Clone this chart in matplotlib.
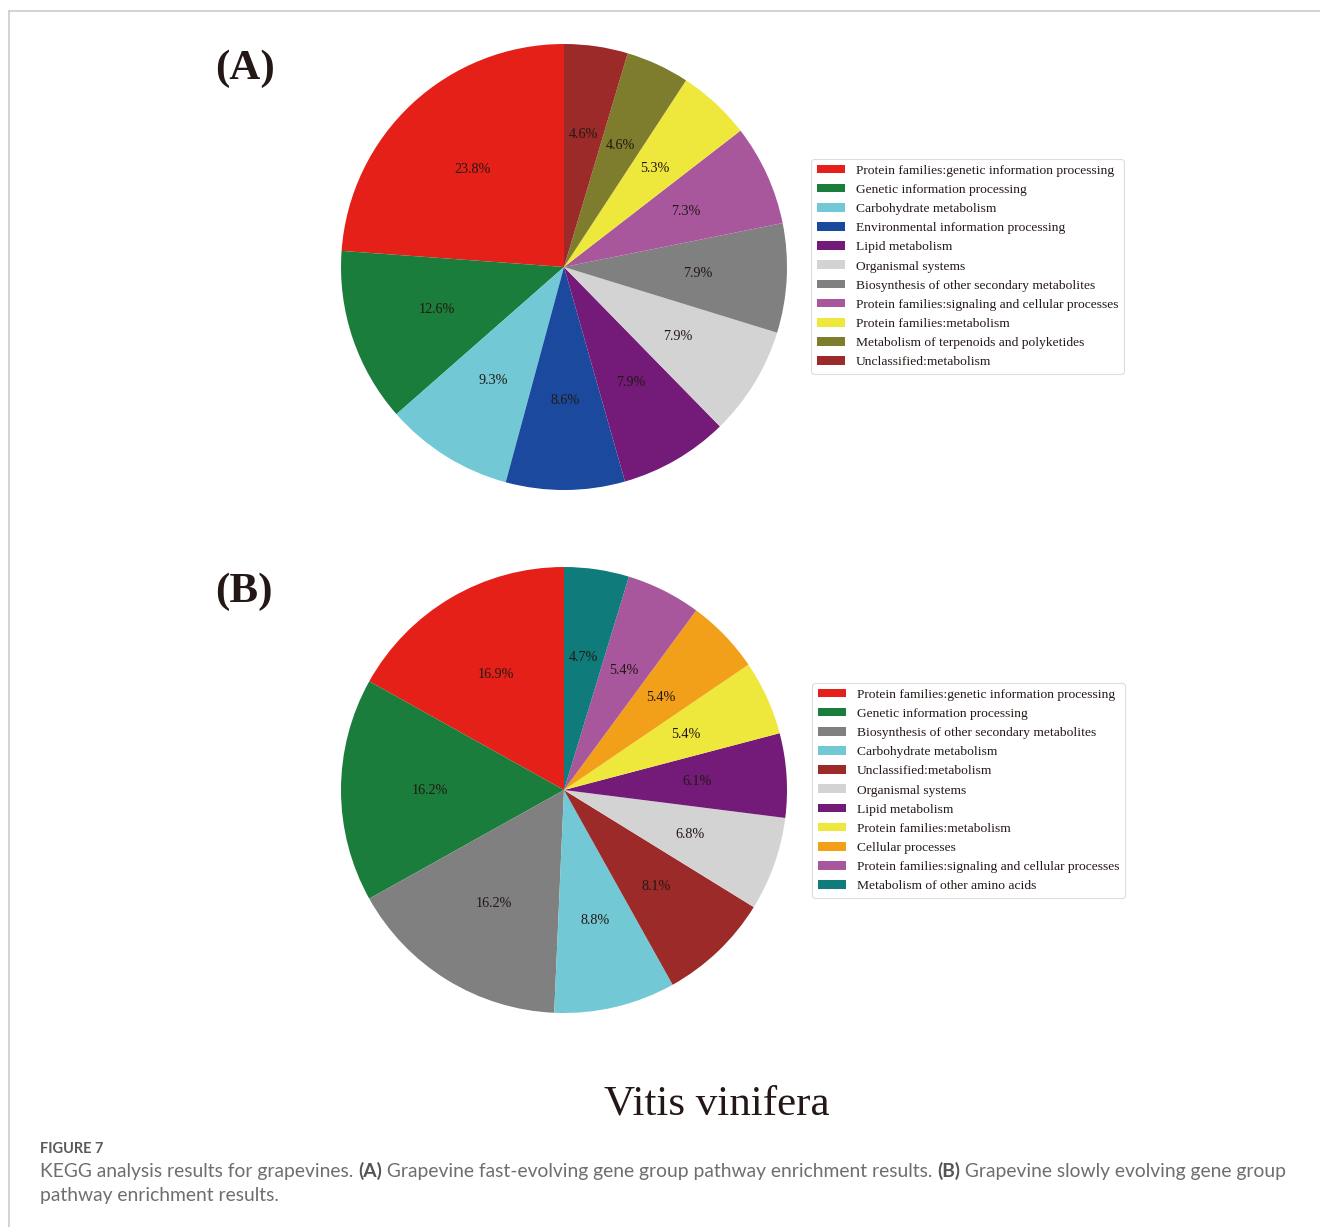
import matplotlib
matplotlib.use("Agg")
import matplotlib.pyplot as plt
from matplotlib.lines import Line2D

W, H = 1320, 1227
DPI = 100

# KEGG pathway shares (%), fast-evolving gene group
cats_a = [
    "Protein families:genetic information processing",
    "Genetic information processing",
    "Carbohydrate metabolism",
    "Environmental information processing",
    "Lipid metabolism",
    "Organismal systems",
    "Biosynthesis of other secondary metabolites",
    "Protein families:signaling and cellular processes",
    "Protein families:metabolism",
    "Metabolism of terpenoids and polyketides",
    "Unclassified:metabolism",
]
vals_a = [23.8, 12.6, 9.3, 8.6, 7.9, 7.9, 7.9, 7.3, 5.3, 4.6, 4.6]

# KEGG pathway shares (%), slowly evolving gene group
cats_b = [
    "Protein families:genetic information processing",
    "Genetic information processing",
    "Biosynthesis of other secondary metabolites",
    "Carbohydrate metabolism",
    "Unclassified:metabolism",
    "Organismal systems",
    "Lipid metabolism",
    "Protein families:metabolism",
    "Cellular processes",
    "Protein families:signaling and cellular processes",
    "Metabolism of other amino acids",
]
vals_b = [16.9, 16.2, 16.2, 8.8, 8.1, 6.8, 6.1, 5.4, 5.4, 5.4, 4.7]

palette = {
    "Protein families:genetic information processing": "#E52019",
    "Genetic information processing": "#1A7D3B",
    "Carbohydrate metabolism": "#72C8D5",
    "Environmental information processing": "#1B499E",
    "Lipid metabolism": "#741A78",
    "Organismal systems": "#D3D3D3",
    "Biosynthesis of other secondary metabolites": "#808080",
    "Protein families:signaling and cellular processes": "#A9579C",
    "Protein families:metabolism": "#EFE83C",
    "Metabolism of terpenoids and polyketides": "#7E7D2E",
    "Unclassified:metabolism": "#9C2A29",
    "Cellular processes": "#F29F1A",
    "Metabolism of other amino acids": "#0F7B7B",
}

SERIF = ["Liberation Serif", "DejaVu Serif"]
INK = "#231815"

fig = plt.figure(figsize=(W / DPI, H / DPI), dpi=DPI)


def fx(px):
    return px / W


def fy(py):
    return 1 - py / H


def draw_panel(cx, cy, r, cats, vals, leg_x, leg_y, tag, tag_x, tag_y):
    ax = fig.add_axes([fx(cx - r), fy(cy + r), (2 * r) / W, (2 * r) / H])
    total = sum(vals)
    wedges, _, autotexts = ax.pie(
        vals,
        colors=[palette[c] for c in cats],
        startangle=90,
        counterclock=True,
        autopct=lambda p: f"{p * total / 100:.1f}%",
        pctdistance=0.6,
        textprops=dict(family=SERIF, size=10.2, color=INK),
        wedgeprops=dict(linewidth=0),
    )
    ax.set_xlim(-1, 1)
    ax.set_ylim(-1, 1)
    ax.set_aspect("equal")
    ax.axis("off")
    leg = fig.legend(
        wedges, cats,
        loc="upper left",
        bbox_to_anchor=(fx(leg_x), fy(leg_y)),
        bbox_transform=fig.transFigure,
        borderaxespad=0,
        prop=dict(family=SERIF, size=9.7),
        handlelength=2.07,
        handleheight=0.6,
        handletextpad=0.82,
        labelspacing=0.53,
        borderpad=0.42,
        frameon=True,
        fancybox=True,
        edgecolor="#dddddd",
        framealpha=1,
    )
    leg.get_frame().set_linewidth(0.8)
    for t in leg.get_texts():
        t.set_color(INK)
    fig.text(fx(tag_x), fy(tag_y), tag, family=SERIF, weight="bold",
             size=31, color=INK, ha="left", va="center")


draw_panel(564, 267, 223, cats_a, vals_a, 811, 159, "(A)", 215, 69)
draw_panel(564, 790, 223, cats_b, vals_b, 812, 683, "(B)", 215, 592)

fig.text(fx(717), fy(1104), "Vitis vinifera", family=SERIF, size=31,
         color=INK, ha="center", va="center")

# page frame
fig.add_artist(Line2D([fx(9), 1], [fy(11), fy(11)], color="#cccccc", lw=1.2,
                      transform=fig.transFigure))
fig.add_artist(Line2D([fx(9), fx(9)], [fy(11), 0], color="#cccccc", lw=1.2,
                      transform=fig.transFigure))

# caption
CAP = ["Lato", "DejaVu Sans"]
CAP_COL = "#6e6e6e"
fig.text(fx(40), fy(1153), "FIGURE 7", family=CAP, size=10.5, weight="bold",
         color="#5a5a5a", ha="left", va="baseline")

renderer = fig.canvas.get_renderer()


def run_line(x_px, base_px, pieces, size):
    x = x_px
    for txt, bold in pieces:
        t = fig.text(fx(x), fy(base_px), txt, family=CAP, size=size,
                     weight="bold" if bold else "normal",
                     color="#555555" if bold else CAP_COL,
                     ha="left", va="baseline")
        bb = t.get_window_extent(renderer)
        x += bb.width


cap_size = 13.85
run_line(40, 1177, [
    ("KEGG analysis results for grapevines. ", False),
    ("(A)", True),
    (" Grapevine fast-evolving gene group pathway enrichment results. ", False),
    ("(B)", True),
    (" Grapevine slowly evolving gene group", False),
], cap_size)
run_line(40, 1201, [("pathway enrichment results.", False)], cap_size)

fig.savefig("out.png", dpi=DPI)
